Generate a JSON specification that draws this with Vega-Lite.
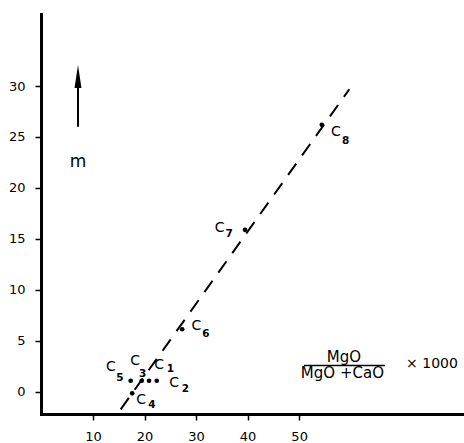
{
  "$schema": "https://vega.github.io/schema/vega-lite/v6.json",
  "width": 423,
  "height": 400,
  "autosize": {"type": "none"},
  "padding": {"left": 41, "top": 14, "right": 0, "bottom": 29},
  "background": "white",
  "config": {
    "view": {"stroke": null},
    "font": "DejaVu Sans",
    "axis": {
      "grid": false,
      "domainColor": "black",
      "domainWidth": 3,
      "domainCap": "square",
      "tickColor": "black",
      "tickWidth": 1.5,
      "tickSize": 6,
      "labelFont": "DejaVu Sans",
      "labelFontSize": 13,
      "labelColor": "black",
      "labelPadding": 10
    }
  },
  "datasets": {
    "fit": [{"x1": 15.37, "y1": -1.7, "x2": 59.74, "y2": 29.68}],
    "samples": [
      {"name": "C1", "x": 20.87, "y": 1.1},
      {"name": "C2", "x": 22.36, "y": 1.1},
      {"name": "C3", "x": 19.45, "y": 1.1},
      {"name": "C4", "x": 17.6, "y": -0.13},
      {"name": "C5", "x": 17.3, "y": 1.1},
      {"name": "C6", "x": 27.3, "y": 6.15},
      {"name": "C7", "x": 39.5, "y": 15.9},
      {"name": "C8", "x": 54.4, "y": 26.2}
    ],
    "labels": [
      {"main": "C", "sub": "1", "lx": 21.9, "ly": 2.25, "sx": 24.3, "sy": 1.95},
      {"main": "C", "sub": "2", "lx": 24.8, "ly": 0.5, "sx": 27.2, "sy": 0.0},
      {"main": "C", "sub": "3", "lx": 17.2, "ly": 2.6, "sx": 18.9, "sy": 1.45},
      {"main": "C", "sub": "4", "lx": 18.4, "ly": -1.18, "sx": 20.7, "sy": -1.62},
      {"main": "C", "sub": "5", "lx": 12.5, "ly": 2.06, "sx": 14.5, "sy": 1.1},
      {"main": "C", "sub": "6", "lx": 29.1, "ly": 6.08, "sx": 31.2, "sy": 5.35},
      {"main": "C", "sub": "7", "lx": 33.6, "ly": 15.69, "sx": 35.7, "sy": 15.2},
      {"main": "C", "sub": "8", "lx": 56.2, "ly": 25.1, "sx": 58.3, "sy": 24.35}
    ]
  },
  "layer": [
    {
      "data": {"name": "fit"},
      "mark": {"type": "rule", "color": "black", "strokeWidth": 2, "strokeDash": [14, 10]},
      "encoding": {
        "x": {
          "field": "x1", "type": "quantitative", "title": null,
          "scale": {"domain": [-0.1, 82], "nice": false, "zero": false},
          "axis": {"values": [10, 20, 30, 40, 50], "title": null}
        },
        "y": {
          "field": "y1", "type": "quantitative", "title": null,
          "scale": {"domain": [-2.16, 37.06], "nice": false, "zero": false},
          "axis": {"values": [0, 5, 10, 15, 20, 25, 30], "title": null}
        },
        "x2": {"field": "x2"},
        "y2": {"field": "y2"}
      }
    },
    {
      "data": {"name": "samples"},
      "mark": {"type": "point", "filled": true, "size": 22, "color": "black", "opacity": 1},
      "encoding": {
        "x": {"field": "x", "type": "quantitative", "title": null},
        "y": {"field": "y", "type": "quantitative", "title": null}
      }
    },
    {
      "data": {"name": "labels"},
      "mark": {"type": "text", "fontSize": 14, "fill": "black", "align": "left", "baseline": "alphabetic"},
      "encoding": {
        "x": {"field": "lx", "type": "quantitative", "title": null},
        "y": {"field": "ly", "type": "quantitative", "title": null},
        "text": {"field": "main"}
      }
    },
    {
      "data": {"name": "labels"},
      "mark": {"type": "text", "fontSize": 10.5, "fontWeight": "bold", "fill": "black", "align": "left", "baseline": "alphabetic"},
      "encoding": {
        "x": {"field": "sx", "type": "quantitative", "title": null},
        "y": {"field": "sy", "type": "quantitative", "title": null},
        "text": {"field": "sub"}
      }
    },
    {
      "data": {"values": [{"x": 7.08, "y": 26.0, "y2": 30.2}]},
      "mark": {"type": "rule", "color": "black", "strokeWidth": 2},
      "encoding": {
        "x": {"field": "x", "type": "quantitative", "title": null},
        "y": {"field": "y", "type": "quantitative", "title": null},
        "y2": {"field": "y2"}
      }
    },
    {
      "data": {"values": [{"x": 7.08, "y": 30.93}]},
      "mark": {"type": "point", "filled": true, "opacity": 1, "color": "black", "size": 529, "shape": "M0,-1L0.3,1L-0.3,1Z"},
      "encoding": {
        "x": {"field": "x", "type": "quantitative", "title": null},
        "y": {"field": "y", "type": "quantitative", "title": null}
      }
    },
    {
      "data": {"values": [{"t": "m", "x": 7.08, "y": 22.09}]},
      "mark": {"type": "text", "fontSize": 17, "fill": "black", "align": "center", "baseline": "alphabetic"},
      "encoding": {
        "x": {"field": "x", "type": "quantitative", "title": null},
        "y": {"field": "y", "type": "quantitative", "title": null},
        "text": {"field": "t"}
      }
    },
    {
      "data": {"values": [{"t": "MgO", "x": 58.7, "y": 2.97}, {"t": "MgO +CaO", "x": 58.4, "y": 1.34}]},
      "mark": {"type": "text", "fontSize": 15, "fill": "black", "align": "center", "baseline": "alphabetic"},
      "encoding": {
        "x": {"field": "x", "type": "quantitative", "title": null},
        "y": {"field": "y", "type": "quantitative", "title": null},
        "text": {"field": "t"}
      }
    },
    {
      "data": {"values": [{"x": 50.95, "x2": 66.67, "y": 2.6}]},
      "mark": {"type": "rule", "color": "black", "strokeWidth": 1.5},
      "encoding": {
        "x": {"field": "x", "type": "quantitative", "title": null},
        "x2": {"field": "x2"},
        "y": {"field": "y", "type": "quantitative", "title": null}
      }
    },
    {
      "data": {"values": [{"t": "× 1000", "x": 70.75, "y": 2.75}]},
      "mark": {"type": "text", "fontSize": 14, "fill": "black", "align": "left", "baseline": "middle"},
      "encoding": {
        "x": {"field": "x", "type": "quantitative", "title": null},
        "y": {"field": "y", "type": "quantitative", "title": null},
        "text": {"field": "t"}
      }
    }
  ]
}
